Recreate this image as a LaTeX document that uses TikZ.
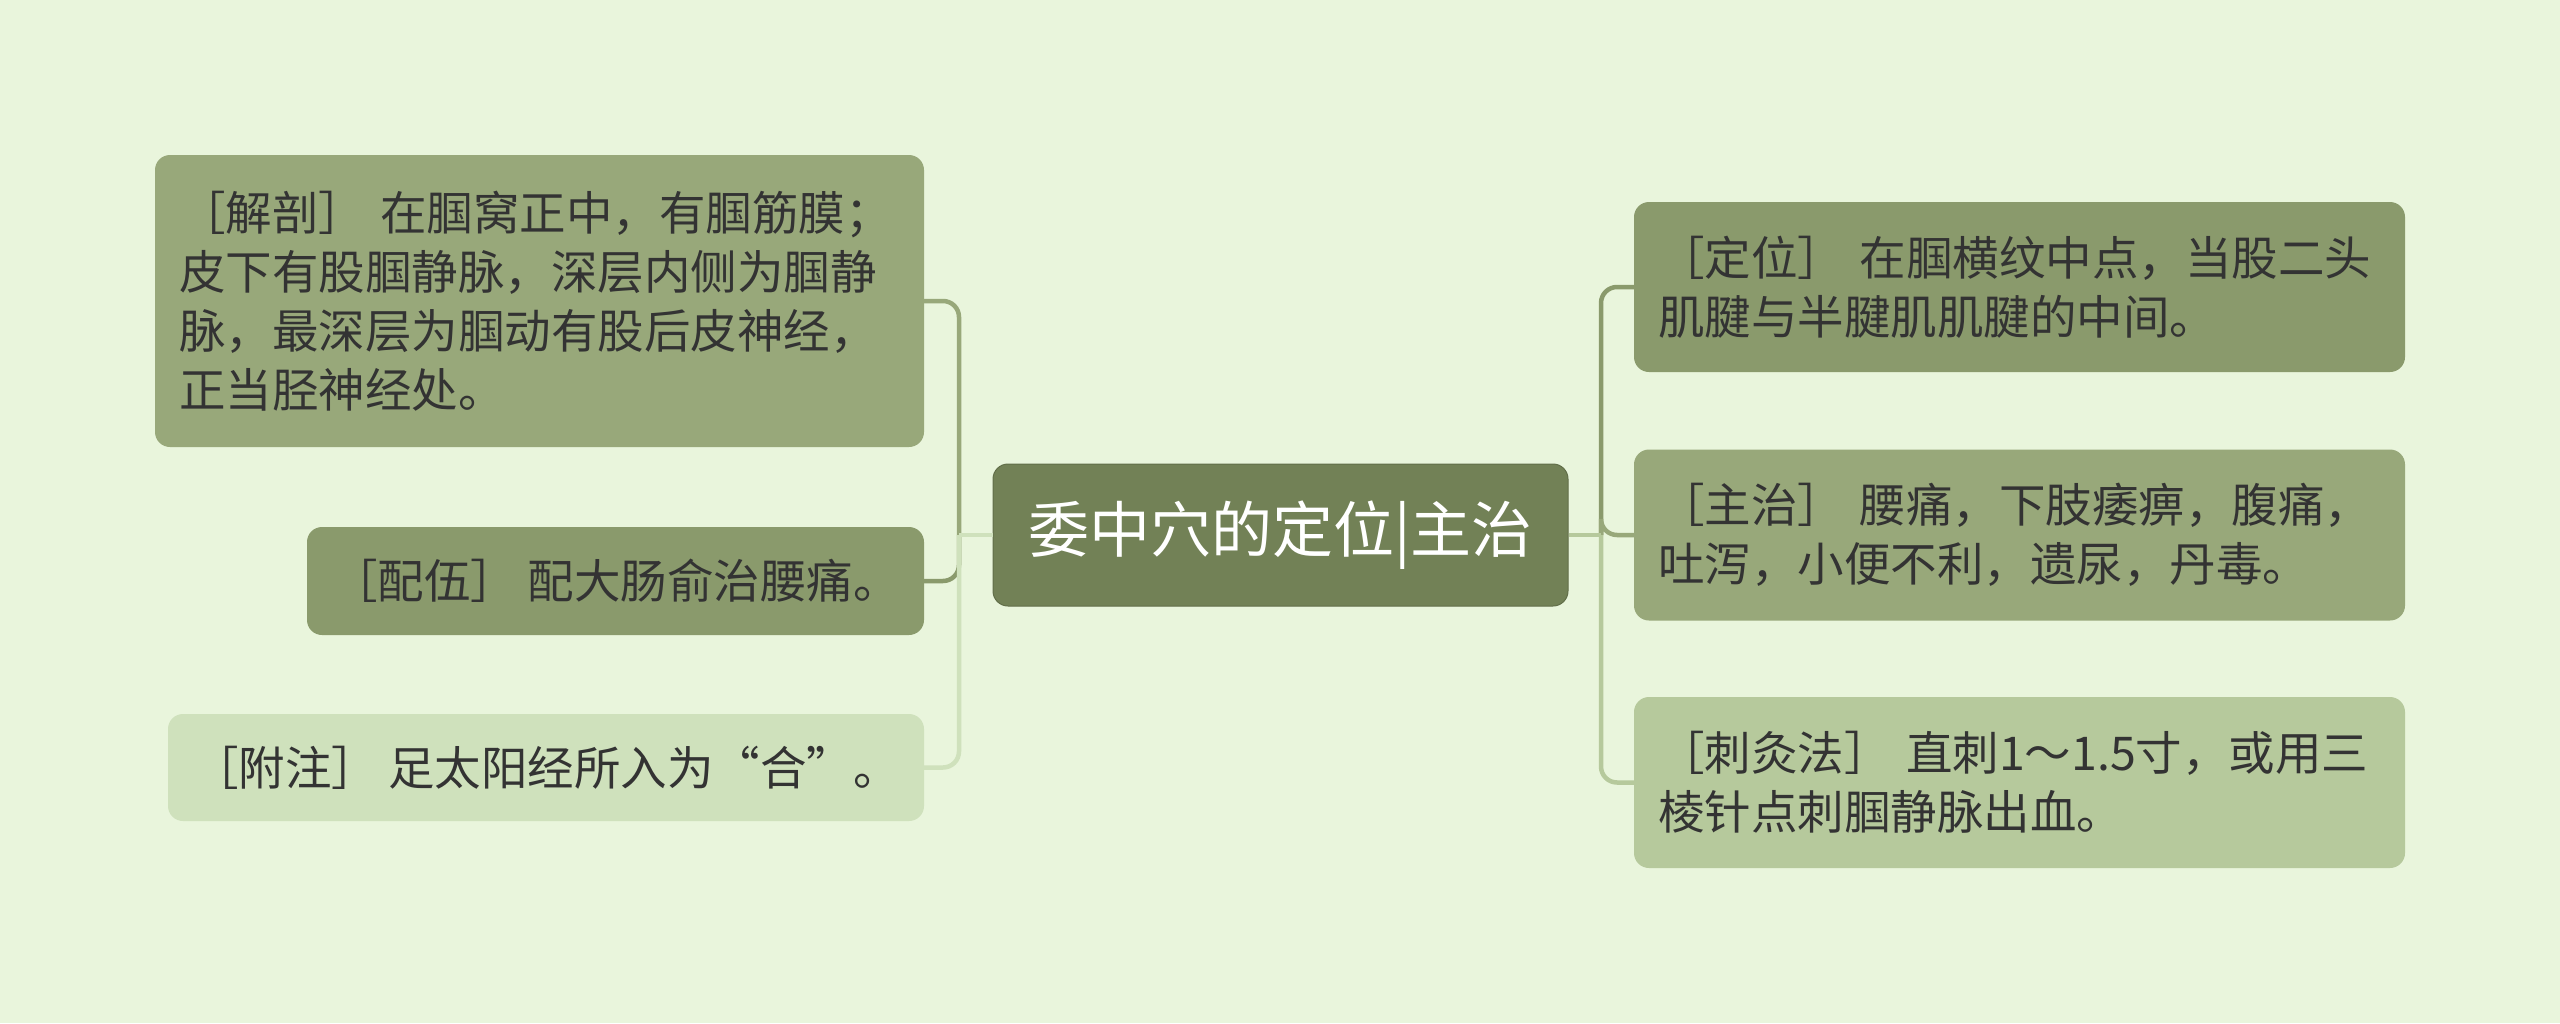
\documentclass[tikz,border=0pt]{standalone}
\usepackage{fontspec}
\usepackage{tikz}
\setmainfont{Noto Sans CJK SC}
\definecolor{bg}{RGB}{233,245,220}
\definecolor{rootc}{RGB}{114,129,86}
\definecolor{midc}{RGB}{152,168,122}
\definecolor{darkc}{RGB}{138,154,108}
\definecolor{lightl}{RGB}{207,225,188}
\definecolor{lightr}{RGB}{182,201,156}
\definecolor{txt}{RGB}{51,51,51}
\newcommand{\leaf}[6]{\node[leafbox, fill=#4, minimum height=#5, #6] (#1) at (#2,#3)}
\tikzset{
  leafbox/.style={rounded corners=15pt, inner xsep=24pt, inner ysep=0pt, align=left,
    text=txt, font={\fontsize{46.5}{59}\selectfont}},
  rootbox/.style={rounded corners=15pt, fill=rootc, draw=rootc!85!black, line width=1pt,
    text=white, minimum width=575pt, minimum height=142pt, font={\fontsize{61}{70}\selectfont}},
  link/.style={line width=4.5pt, rounded corners=16pt}
}

\begin{document}
\begin{tikzpicture}[x=1pt,y=-1pt]
\fill[bg] (0,0) rectangle (2560,1023);
\useasboundingbox (0,0) rectangle (2560,1023);
\node[rootbox] (root) at (1280.5,535) {委中穴的定位|主治};
% left side
\leaf{jiepou}{539.5}{301}{midc}{292pt}{text width=721pt} {［解剖］ 在腘窝正中，有腘筋膜；\\皮下有股腘静脉，深层内侧为腘静\\脉，最深层为腘动有股后皮神经，\\正当胫神经处。};
\leaf{peiwu}{615.5}{581}{darkc}{108pt}{minimum width=617pt} {［配伍］ 配大肠俞治腰痛。};
\leaf{fuzhu}{546}{767.5}{lightl}{107pt}{minimum width=756pt} {［附注］ 足太阳经所入为“合”。};
% right side
\leaf{dingwei}{2019.5}{287}{darkc}{170pt}{text width=723pt} {［定位］ 在腘横纹中点，当股二头\\肌腱与半腱肌肌腱的中间。};
\leaf{zhuzhi}{2019.5}{535}{midc}{171pt}{text width=723pt} {［主治］ 腰痛，下肢痿痹，腹痛，\\吐泻，小便不利，遗尿，丹毒。};
\leaf{cijiu}{2019.5}{782.5}{lightr}{171pt}{text width=723pt} {［刺灸法］ 直刺1～1.5寸，或用三\\棱针点刺腘静脉出血。};
\coordinate (lt) at (959,535);
\coordinate (rt) at (1601,535);
\draw[link, midc] (lt) |- (jiepou.east);
\draw[link, darkc] (lt) |- (peiwu.east);
\draw[link, lightl] (lt) |- (fuzhu.east);
\draw[link, lightl] (root.west) -- (lt);
\draw[link, darkc] (rt) |- (dingwei.west);
\draw[link, midc] (rt) |- (zhuzhi.west);
\draw[link, lightr] (rt) |- (cijiu.west);
\draw[link, lightr] (root.east) -- (rt);
\end{tikzpicture}
\end{document}
